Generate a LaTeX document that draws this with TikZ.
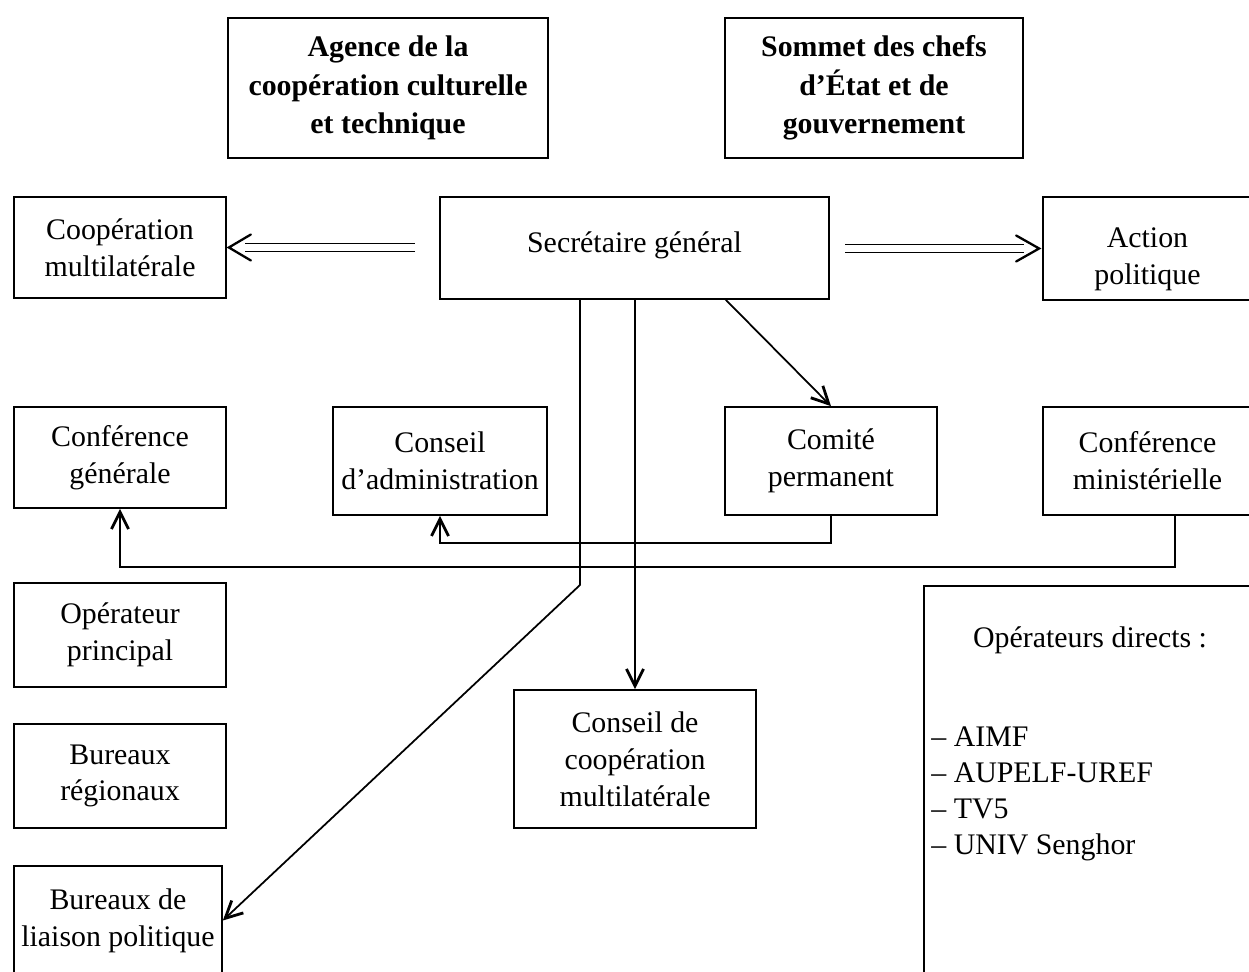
\documentclass[tikz,border=0pt]{standalone}
\usepackage{fontspec}
\setmainfont{Liberation Serif}
\usetikzlibrary{arrows.meta}

\begin{document}
\begin{tikzpicture}[x=0.02cm,y=-0.02cm,
        box/.style={draw,line width=1pt,align=center,inner sep=0pt,font=\fontsize{17}{21}\selectfont},
        titlebox/.style={box,font=\fontsize{17}{22}\selectfont\bfseries},
        link/.style={line width=1pt,-{Straight Barb[length=3.4mm,width=3.4mm,line width=1.6pt]}},
        dbl/.style={double,double distance=0.14cm,line width=0.8pt},
        chev/.style={line width=1.3pt,line cap=round,line join=miter}]
        \useasboundingbox (0,0) rectangle (1249,972);

        % upper row
        \node[titlebox,minimum width=6.4cm,minimum height=2.8cm] (agence) at (388,88) {Agence de la\\coopération culturelle\\et technique};
        \node[titlebox,minimum width=5.96cm,minimum height=2.8cm] (sommet) at (874,88) {Sommet des chefs\\d'État et de\\gouvernement};

        \node[box,minimum width=4.24cm,minimum height=2.02cm] (coop) at (120,247.5) {Coopération\\multilatérale};
        \node[box,minimum width=7.78cm,minimum height=2.04cm] (sg) at (634.5,248) {\raisebox{0.22cm}{Secrétaire général}};
        \node[box,minimum width=4.18cm,minimum height=2.06cm] (action) at (1147.5,248.5) {\rule{0pt}{24pt}Action\\politique};

        % conferences
        \node[box,minimum width=4.24cm,minimum height=2.02cm] (cg) at (120,457.5) {Conférence\\générale};
        \node[box,minimum width=4.28cm,minimum height=2.16cm] (ca) at (440,461) {Conseil\\d'administration};
        \node[box,minimum width=4.24cm,minimum height=2.16cm] (cp) at (831,461) {Comité\\permanent};
        \node[box,minimum width=4.18cm,minimum height=2.16cm] (cm) at (1147.5,461) {Conférence\\ministérielle};

        % lower part
        \node[box,minimum width=4.24cm,minimum height=2.08cm] (op) at (120,635) {Opérateur\\principal};
        \node[box,minimum width=4.24cm,minimum height=2.08cm] (br) at (120,776) {Bureaux\\régionaux};
        \node[box,minimum width=4.16cm,minimum height=2.18cm] (blp) at (118,920.5) {Bureaux de\\liaison politique};
        \node[box,minimum width=4.84cm,minimum height=2.76cm] (ccm) at (635,759) {Conseil de\\coopération\\multilatérale};

        \node[box,minimum width=6.6cm,minimum height=7.9cm,anchor=north west] (od) at (923,585) {};
        \node[font=\fontsize{17}{21}\selectfont] (odtitle) at (1090,640) {Opérateurs directs :};
        \node[font=\fontsize{17}{20.5}\selectfont,align=left,anchor=west,inner sep=0pt] (odlist) at (931,794) {-- AIMF\\-- AUPELF-UREF\\-- TV5\\-- UNIV Senghor};

        % connectors
        \coordinate (dl) at (415,247.5);
        \coordinate (dr) at (845,248.5);
        \coordinate (s1) at (580,299);
        \coordinate (k1) at (580,585);
        \coordinate (s3) at (725,299);
        \coordinate (m1) at (1175,515);

        \draw[dbl] (dl) -- ([xshift=0.36cm]coop.east);
        \draw[chev] ([shift={(24,-13)}]coop.east) -- ([xshift=0.04cm]coop.east) -- ([shift={(24,13)}]coop.east);
        \draw[dbl] (dr) -- ([xshift=-0.36cm]action.west);
        \draw[chev] ([shift={(-26,-13)}]action.west) -- ([xshift=-0.06cm]action.west) -- ([shift={(-26,13)}]action.west);

        \draw[link] (s3) -- (cp.north);
        \draw[link] (ccm.north |- sg.south) -- (ccm.north);
        \draw[link] (s1) -- (k1) -- (blp.east);
        \draw[link] (cp.south) -- (cp.south |- 0,543) -| (ca.south);
        \draw[link] (m1) -- (m1 |- 0,567) -| (cg.south);
\end{tikzpicture}
\end{document}
